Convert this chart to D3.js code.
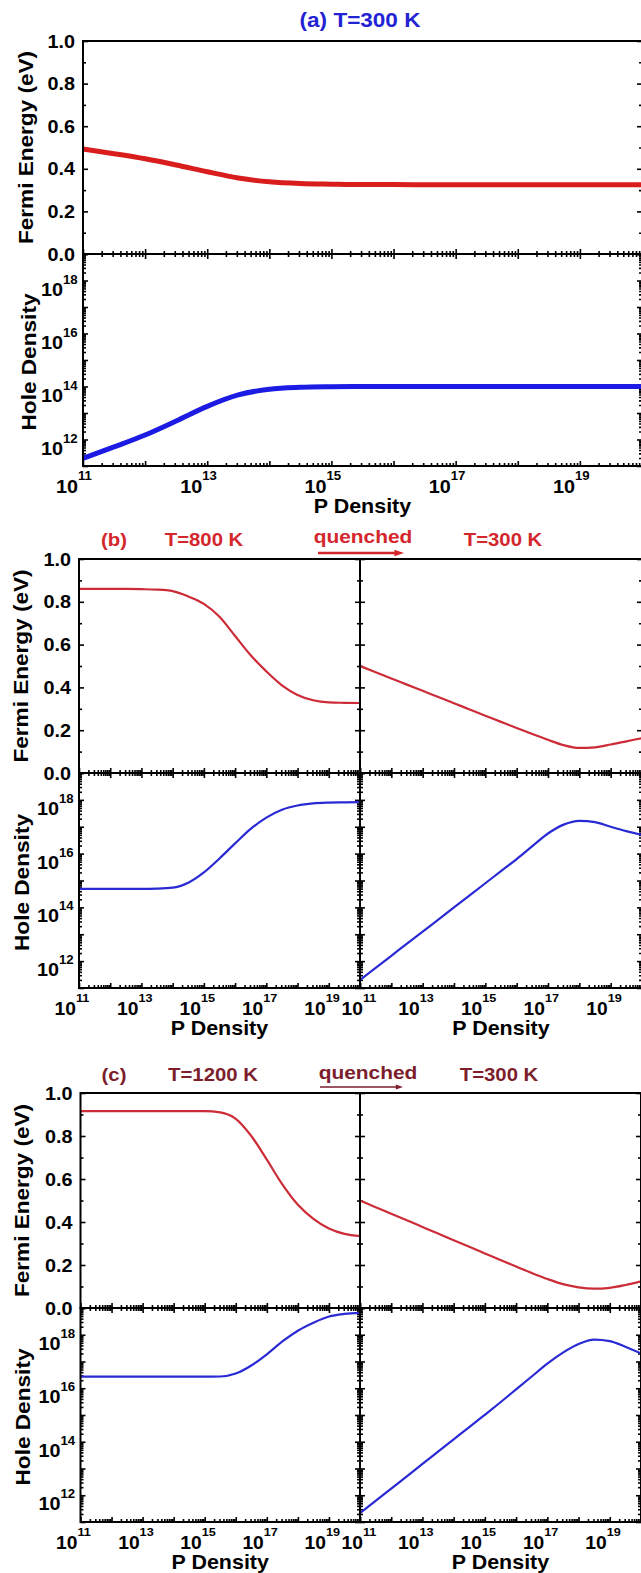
<!DOCTYPE html>
<html><head><meta charset="utf-8">
<script src="https://cdn.jsdelivr.net/npm/d3@7"></script>
<style>
html,body{margin:0;padding:0;background:#fff;}
svg{display:block;}
text{font-family:"Liberation Sans",Arial,sans-serif;font-weight:bold;}
</style></head><body>
<svg id="fig" width="641" height="1573"></svg>
<script>
// P density grid (cm^-3), half-decade steps
const pDensity = [1e11, 3.16e11, 1e12, 3.16e12, 1e13, 3.16e13, 1e14, 3.16e14, 1e15, 3.16e15,
                  1e16, 3.16e16, 1e17, 3.16e17, 1e18, 3.16e18, 1e19, 3.16e19, 1e20];

// (a) equilibrium at 300 K
const fermiA300 = [0.493, 0.471, 0.447, 0.418, 0.386, 0.357, 0.339, 0.331, 0.328, 0.326,
                   0.326, 0.325, 0.325, 0.325, 0.325, 0.325, 0.325, 0.325, 0.325];
const holeA300  = [1.95e11, 5.25e11, 1.48e12, 5.0e12, 1.78e13, 4.8e13, 7.9e13, 9.3e13, 9.8e13, 1.0e14,
                   1.0e14, 1.0e14, 1.0e14, 1.0e14, 1.0e14, 1.0e14, 1.0e14, 1.0e14, 1.0e14];

// (b) 800 K, then quenched to 300 K
const fermiB800 = [0.860, 0.860, 0.860, 0.860, 0.859, 0.857, 0.850, 0.825, 0.790, 0.730,
                   0.640, 0.550, 0.475, 0.410, 0.365, 0.340, 0.330, 0.328, 0.327];
const holeB800  = [4.9e14, 4.9e14, 4.9e14, 4.9e14, 4.9e14, 5.0e14, 5.4e14, 8.3e14, 2.0e15, 6.6e15,
                   2.4e16, 8.3e16, 2.19e17, 4.3e17, 6.2e17, 7.4e17, 7.9e17, 8.1e17, 8.3e17];
const fermiB300 = [0.500, 0.471, 0.442, 0.413, 0.384, 0.355, 0.326, 0.297, 0.268, 0.239,
                   0.210, 0.182, 0.155, 0.130, 0.117, 0.120, 0.133, 0.148, 0.163];
const holeB300  = [2.0e11, 5.6e11, 1.58e12, 4.5e12, 1.26e13, 3.5e13, 1.0e14, 2.8e14, 7.9e14, 2.24e15,
                   6.3e15, 1.9e16, 5.6e16, 1.2e17, 1.66e17, 1.48e17, 1.0e17, 6.9e16, 5.0e16];

// (c) 1200 K, then quenched to 300 K
const fermiC1200 = [0.916, 0.916, 0.916, 0.916, 0.916, 0.916, 0.916, 0.916, 0.916, 0.910,
                    0.880, 0.800, 0.690, 0.575, 0.480, 0.415, 0.370, 0.345, 0.335];
const holeC1200  = [2.7e16, 2.7e16, 2.7e16, 2.7e16, 2.7e16, 2.7e16, 2.7e16, 2.7e16, 2.7e16, 2.75e16,
                    3.55e16, 7.1e16, 1.86e17, 5.6e17, 1.41e18, 2.8e18, 4.8e18, 6.0e18, 6.6e18];
const fermiC300  = [0.500, 0.469, 0.438, 0.408, 0.377, 0.346, 0.315, 0.285, 0.254, 0.223,
                    0.193, 0.163, 0.135, 0.111, 0.096, 0.090, 0.094, 0.107, 0.124];
const holeC300   = [2.14e11, 6.2e11, 1.78e12, 5.1e12, 1.48e13, 4.3e13, 1.23e14, 3.5e14, 1.02e15, 3.0e15,
                    9.1e15, 2.75e16, 8.3e16, 2.14e17, 4.5e17, 6.6e17, 5.8e17, 3.55e17, 2.0e17];

// axis ticks
const fermiTicks   = [0, 0.2, 0.4, 0.6, 0.8, 1.0];
const holeTickExps = [12, 14, 16, 18];
const pTickExps    = [11, 13, 15, 17, 19];

const svg = d3.select("#fig");
const SX = 1.1;            // horizontal stretch of the lettering

function txt(g, x, y, s, size, anchor, color, sx = SX) {
  return g.append("text")
    .attr("transform", `translate(${x},${y}) scale(${sx},1)`)
    .attr("text-anchor", anchor)
    .style("font-size", size + "px")
    .attr("fill", color || "#000")
    .text(s);
}
function vtxt(g, x, y, s, size, len) {
  return g.append("text")
    .attr("transform", `translate(${x},${y}) rotate(-90)`)
    .attr("text-anchor", "middle")
    .style("font-size", size + "px")
    .attr("textLength", len).attr("lengthAdjust", "spacingAndGlyphs")
    .text(s);
}
// "10" with a raised exponent; the join between them sits at anchorAt
function pow10(g, anchorAt, y, e, size, supSize, supRise) {
  txt(g, anchorAt, y, "10", size, "end");
  txt(g, anchorAt, y - supRise, String(e), supSize, "start");
}

function minorLog(lo, hi) {
  const out = [];
  for (let d = lo; d < hi; d++) for (let k = 2; k <= 9; k++) out.push(k * Math.pow(10, d));
  return out;
}
function majorLog(lo, hi) { return d3.range(lo, hi + 1).map(d => Math.pow(10, d)); }

// one axis with inward ticks, major + minor
function axisWithTicks(g, axisFn, scale, majors, minors, majLen, minLen, transform) {
  const a1 = axisFn(scale).tickValues(majors).tickSize(-majLen).tickSizeOuter(0).tickFormat("");
  const a2 = axisFn(scale).tickValues(minors).tickSize(-minLen).tickSizeOuter(0).tickFormat("");
  [a1, a2].forEach(a => {
    const s = g.append("g").attr("transform", transform).call(a);
    s.select(".domain").remove();
    s.selectAll(".tick line").attr("stroke", "#000").attr("stroke-width", 1.6);
  });
}

// one column: Fermi energy on top, hole density below
function column(g, o) {
  const x = d3.scaleLog().domain([1e11, 1e20]).range([o.xl, o.xr]);
  const yF = d3.scaleLinear().domain([0, 1]).range([o.ym, o.y0]);
  const yH = d3.scaleLog().domain([1e11, 1e19]).range([o.y1, o.ym]);

  const xMaj = majorLog(11, 20), xMin = minorLog(11, 20);
  const fMaj = fermiTicks, fMin = [0.1, 0.3, 0.5, 0.7, 0.9];
  const hMaj = majorLog(11, 19), hMin = minorLog(11, 19);
  axisWithTicks(g, d3.axisBottom, x, xMaj, xMin, 5, 3, `translate(0,${o.ym})`);   // Fermi bottom
  axisWithTicks(g, d3.axisTop, x, xMaj, xMin, 5, 3, `translate(0,${o.ym})`);      // hole top
  axisWithTicks(g, d3.axisBottom, x, xMaj, xMin, 5, 3, `translate(0,${o.y1})`);   // hole bottom
  axisWithTicks(g, d3.axisLeft, yF, fMaj, fMin, 5, 3, `translate(${o.xl},0)`);
  axisWithTicks(g, d3.axisRight, yF, fMaj, fMin, 5, 3, `translate(${o.xr},0)`);
  axisWithTicks(g, d3.axisLeft, yH, hMaj, hMin, 5, 3, `translate(${o.xl},0)`);
  axisWithTicks(g, d3.axisRight, yH, hMaj, hMin, 5, 3, `translate(${o.xr},0)`);

  const fLine = d3.line().x((d, i) => x(pDensity[i])).y(d => yF(d)).curve(d3.curveMonotoneX);
  const hLine = d3.line().x((d, i) => x(pDensity[i])).y(d => yH(d)).curve(d3.curveMonotoneX);
  g.append("path").attr("d", fLine(o.fermi)).attr("fill", "none")
    .attr("stroke", o.red).attr("stroke-width", o.lw).attr("stroke-linejoin", "round");
  g.append("path").attr("d", hLine(o.hole)).attr("fill", "none")
    .attr("stroke", o.blue).attr("stroke-width", o.lw).attr("stroke-linejoin", "round");

  g.append("rect").attr("x", o.xl).attr("y", o.y0).attr("width", o.xr - o.xl).attr("height", o.ym - o.y0)
    .attr("fill", "none").attr("stroke", "#000").attr("stroke-width", 2);
  g.append("rect").attr("x", o.xl).attr("y", o.ym).attr("width", o.xr - o.xl).attr("height", o.y1 - o.ym)
    .attr("fill", "none").attr("stroke", "#000").attr("stroke-width", 2);

  // x tick labels
  pTickExps.forEach((e, i) => {
    const shift = o.lblShift + (i === 0 ? (o.firstShift || 0) : 0);
    pow10(g, x(Math.pow(10, e)) + shift, o.y1 + 27, e, o.xLblSize, o.xSupSize, 13);
  });
  txt(g, (o.xl + o.xr) / 2, o.y1 + 47, "P Density", 19.5, "middle");

  if (o.yLabels) {
    fermiTicks.forEach(v => txt(g, o.xl - 8, yF(v) + 6.5, v.toFixed(1), 18, "end"));
    holeTickExps.forEach(e => {
      const ty = yH(Math.pow(10, e));
      pow10(g, o.xl - 20, ty + 15, e, 18, 12, 12);
    });
    vtxt(g, o.fLabX, (o.y0 + o.ym) / 2, "Fermi Energy (eV)", 20, 193);
    vtxt(g, o.hLabX, (o.ym + o.y1) / 2 + 2, "Hole Density", 20, 137);
  }
}

function arrow(g, xa, xb, y, color, w, head) {
  g.append("line").attr("x1", xa).attr("x2", xb - head).attr("y1", y).attr("y2", y)
    .attr("stroke", color).attr("stroke-width", w);
  g.append("path").attr("d", `M${xb},${y} L${xb - head * 1.6},${y - head * 0.55} L${xb - head * 1.6},${y + head * 0.55} Z`)
    .attr("fill", color);
}

// ---------- panel (a) ----------
const gA = svg.append("g");
column(gA, { xl: 83, xr: 642, y0: 41, ym: 254, y1: 466, fermi: fermiA300, hole: holeA300,
  red: "#d91c1c", blue: "#1b1be3", lw: 5, yLabels: true, fLabX: 33, hLabX: 36,
  lblShift: -5, xLblSize: 18, xSupSize: 12 });
txt(gA, 360, 27, "(a) T=300 K", 20.5, "middle", "#2323d4");

// ---------- panel (b) ----------
const gB = svg.append("g");
const redB = "#cc2c38", blueB = "#2a2ad4", titleB = "#d4262c";
const pb = { y0: 559, ym: 773, y1: 988, red: redB, blue: blueB, lw: 2.2,
  lblShift: -3, xLblSize: 17.5, xSupSize: 11.5 };
column(gB, Object.assign({}, pb, { xl: 79, xr: 360, fermi: fermiB800, hole: holeB800,
  yLabels: true, fLabX: 28, hLabX: 29 }));
column(gB, Object.assign({}, pb, { xl: 360, xr: 642, fermi: fermiB300, hole: holeB300, firstShift: 6 }));
txt(gB, 114, 546, "(b)", 18.5, "middle", titleB);
txt(gB, 204, 546, "T=800 K", 18.5, "middle", titleB);
txt(gB, 363, 543, "quenched", 19, "middle", titleB);
txt(gB, 503, 546, "T=300 K", 18.5, "middle", titleB);
arrow(gB, 318, 404, 553, titleB, 2.6, 6);

// ---------- panel (c) ----------
const gC = svg.append("g");
const titleC = "#7c1e2c";
const pc = { y0: 1093, ym: 1308, y1: 1522, red: redB, blue: blueB, lw: 2.2,
  lblShift: -3, xLblSize: 17.5, xSupSize: 11.5 };
column(gC, Object.assign({}, pc, { xl: 80.5, xr: 360, fermi: fermiC1200, hole: holeC1200,
  yLabels: true, fLabX: 29, hLabX: 30 }));
column(gC, Object.assign({}, pc, { xl: 360, xr: 641, fermi: fermiC300, hole: holeC300, firstShift: 6 }));
txt(gC, 114, 1081, "(c)", 18.5, "middle", titleC);
txt(gC, 213, 1081, "T=1200 K", 18.5, "middle", titleC);
txt(gC, 368, 1079, "quenched", 19, "middle", titleC);
txt(gC, 499, 1081, "T=300 K", 18.5, "middle", titleC);
arrow(gC, 320, 403, 1087, titleC, 1.6, 4.5);
</script>
</body></html>
